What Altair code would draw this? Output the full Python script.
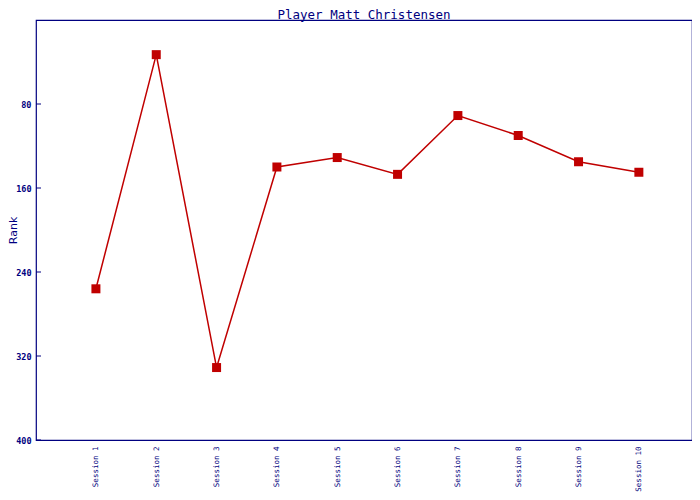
import altair as alt
import pandas as pd

sessions = ["Session 1", "Session 2", "Session 3", "Session 4", "Session 5",
            "Session 6", "Session 7", "Session 8", "Session 9", "Session 10"]
ranks = [256, 33, 331, 140, 131, 147, 91, 110, 135, 145]
y_ticks = [80, 160, 240, 320, 400]

df = pd.DataFrame({"session": sessions, "rank": ranks})
ticks_df = pd.DataFrame({"rank": y_ticks})

navy = "#000080"
red = "#c00000"

yscale = alt.Scale(domain=[0, 400], reverse=True, nice=False, zero=False)

x = alt.X("session:N", sort=sessions, title=None,
          scale=alt.Scale(type="point", padding=0.937, align=0.53),
          axis=alt.Axis(labelAngle=-90, labelAlign="right", labelBaseline="middle",
                        labelFont="DejaVu Sans Mono", labelFontSize=7.5, labelColor=navy,
                        ticks=False, domain=False, labelPadding=6, grid=False))
yaxis = alt.Axis(values=y_ticks, labelFont="DejaVu Sans Mono", labelFontSize=8.5,
                 labelFontWeight="bold",
                 labelColor=navy, ticks=False, domain=False,
                 grid=False, titleColor=navy, titleFont="DejaVu Sans",
                 titleFontSize=11, titleFontWeight="normal",
                 titleX=-18, titleY=210, titleAngle=-90,
                 titleAlign="center", titleBaseline="bottom",
                 labelPadding=5)
y = alt.Y("rank:Q", title="Rank", scale=yscale, axis=yaxis)

tick_marks = alt.Chart(ticks_df).mark_rule(color=navy, strokeWidth=1).encode(
    y=alt.Y("rank:Q", title="Rank", scale=yscale, axis=yaxis),
    x=alt.value(0), x2=alt.value(5))

line = alt.Chart(df).mark_line(color=red, strokeWidth=1.5).encode(x=x, y=y)
pts = alt.Chart(df).mark_point(shape="square", filled=True, size=81, color=red,
                               opacity=1, strokeWidth=0).encode(x=x, y=y)

chart = (line + pts + tick_marks).properties(
    width=656, height=420,
    title=alt.TitleParams("Player Matt Christensen", font="DejaVu Sans Mono",
                          fontSize=12.5, fontWeight="normal", color=navy, offset=2,
                          baseline="bottom", frame="group", dy=16),
    autosize=alt.AutoSizeParams(type="none"),
    padding={"left": 28, "top": 12, "right": 0, "bottom": 52},
).configure(background="white",
            view=alt.ViewConfig(stroke=navy, strokeWidth=1.2))

chart.save("out.html", embed_options={"renderer": "svg", "actions": False})
